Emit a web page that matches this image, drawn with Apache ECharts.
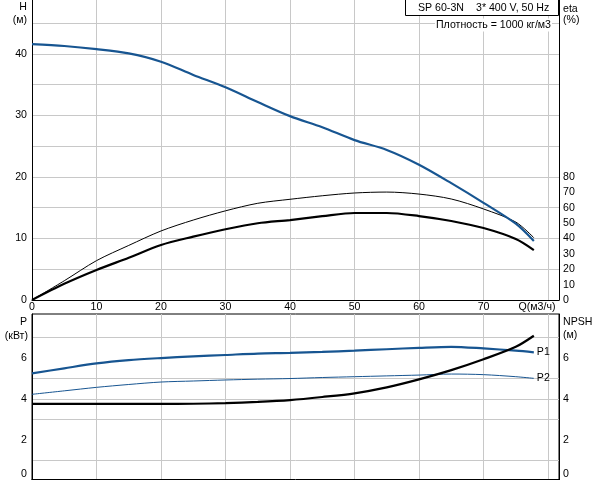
<!DOCTYPE html>
<html><head><meta charset="utf-8">
<script src="https://cdn.jsdelivr.net/npm/echarts@6/dist/echarts.min.js"></script>
<style>html,body{margin:0;padding:0;background:#fff}#c{width:592px;height:480px}</style>
</head><body><div id="c"></div>
<script>
// Flow rate Q (m3/h)
const flow = [0, 5, 10, 15, 20, 25, 30, 35, 40, 45, 50, 55, 60, 65, 70, 75, 77.8];
// Head H (m)
const head = [41.6, 41.3, 40.8, 40.1, 38.75, 36.6, 34.6, 32.2, 29.9, 28.1, 26.0, 24.4, 22.0, 19.0, 15.8, 12.4, 9.6];
// Efficiency (%) - pump (thin) and total (thick)
const etaPump = [0, 12.5, 25.6, 35.5, 44.9, 52.0, 58.0, 62.9, 65.5, 67.8, 69.6, 70.2, 68.9, 65.7, 59.2, 50.7, 40.5];
const etaTotal = [0, 10.5, 19.5, 27.5, 35.8, 41.2, 46.0, 49.9, 52.0, 54.5, 56.6, 56.6, 54.6, 51.4, 46.8, 39.7, 32.5];
// Power (kW)
const powerP1 = [5.25, 5.5, 5.74, 5.9, 6.0, 6.08, 6.15, 6.22, 6.25, 6.3, 6.36, 6.43, 6.5, 6.55, 6.47, 6.36, 6.28];
const powerP2 = [4.23, 4.4, 4.57, 4.71, 4.83, 4.88, 4.93, 4.97, 5.0, 5.05, 5.09, 5.13, 5.17, 5.22, 5.19, 5.09, 5.01];
// NPSH (m)
const npsh = [3.76, 3.76, 3.76, 3.76, 3.76, 3.77, 3.8, 3.86, 3.95, 4.1, 4.28, 4.57, 4.96, 5.41, 5.94, 6.55, 7.09];
// Labels
const qAxisName = 'Q(м3/ч)';
const titleText = 'SP 60-3N';
const supplyText = '3* 400 V, 50 Hz';
const densityText = 'Плотность = 1000 кг/м3';

const BLUE = '#175591';
const GRID = '#c8c8c8';
const FONT = '"Liberation Sans", Arial, sans-serif';
const FS = 10.6;
const pairs = arr => flow.map((q, i) => [q, arr[i]]);

const chart = echarts.init(document.getElementById('c'), null, {renderer: 'canvas'});
const lbl = {color: '#000', fontSize: FS, fontFamily: FONT};
const blackLine = {show: true, onZero: false, lineStyle: {color: '#000', width: 1}};
const T = (text, x, y, align, extra) => ({type: 'text', z: 101,
  style: Object.assign({text: text, x: x, y: y, align: align, verticalAlign: 'middle', fill: '#000', font: FS + 'px ' + FONT}, extra || {})});

const option = {
  animation: false,
  backgroundColor: '#fff',
  grid: [
    {left: 32, top: 0, width: 527, height: 300, outerBoundsMode: 'none', containLabel: false},
    {left: 32, top: 314, width: 527, height: 167, outerBoundsMode: 'none', containLabel: false,
     show: true, borderColor: '#000', borderWidth: 1, backgroundColor: 'transparent'}
  ],
  xAxis: [
    {gridIndex: 0, type: 'value', min: 0, max: 81.7, interval: 10,
     axisLine: blackLine, axisTick: {show: false},
     splitLine: {show: true, showMaxLine: false, lineStyle: {color: GRID, width: 1}},
     axisLabel: Object.assign({}, lbl, {margin: 2, showMaxLabel: false, hideOverlap: false,
       formatter: v => v === 80 ? '{q|' + qAxisName + '}' : String(v),
       rich: {q: {color: '#000', fontSize: FS, fontFamily: FONT, padding: [0, 22, 0, 0]}}})},
    {gridIndex: 1, type: 'value', min: 0, max: 81.7, interval: 10, offset: -2,
     axisLine: blackLine, axisTick: {show: false}, axisLabel: {show: false},
     splitLine: {show: true, showMaxLine: false, lineStyle: {color: GRID, width: 1}}}
  ],
  yAxis: [
    {gridIndex: 0, type: 'value', min: 0, max: 48.78, interval: 5,
     axisLine: blackLine, axisTick: {show: false},
     splitLine: {show: true, showMaxLine: false, lineStyle: {color: GRID, width: 1}},
     axisLabel: Object.assign({}, lbl, {margin: 5, formatter: v => v % 10 === 0 ? String(v) : ''})},
    {gridIndex: 0, type: 'value', position: 'right', min: 0, max: 195.12, interval: 10,
     axisLine: blackLine, axisTick: {show: false}, splitLine: {show: false},
     axisLabel: Object.assign({}, lbl, {margin: 4, formatter: v => v <= 80 ? String(v) : ''})},
    {gridIndex: 1, type: 'value', min: 0, max: 8.15, interval: 1,
     axisLine: blackLine, axisTick: {show: false},
     splitLine: {show: true, showMinLine: false, showMaxLine: false,
       lineStyle: {color: [GRID, 'rgba(0,0,0,0)', GRID, GRID, GRID, 'rgba(0,0,0,0)', GRID, 'rgba(0,0,0,0)'], width: 1}},
     axisLabel: Object.assign({}, lbl, {margin: 5,
       formatter: v => v === 0 ? '{z|0}' : (v % 2 === 0 && v < 8 ? String(v) : ''),
       rich: {z: {color: '#000', fontSize: FS, fontFamily: FONT, padding: [0, 0, 14, 0]}}})},
    {gridIndex: 1, type: 'value', position: 'right', min: 0, max: 8.15, interval: 1,
     axisLine: blackLine, axisTick: {show: false}, splitLine: {show: false},
     axisLabel: Object.assign({}, lbl, {margin: 4,
       formatter: v => v === 0 ? '{z|0}' : (v % 2 === 0 && v < 8 ? String(v) : ''),
       rich: {z: {color: '#000', fontSize: FS, fontFamily: FONT, padding: [0, 0, 14, 0]}}})}
  ],
  series: [
    {type: 'line', name: 'H', xAxisIndex: 0, yAxisIndex: 0, data: pairs(head), smooth: 0.3,
     symbol: 'none', lineStyle: {color: BLUE, width: 2.2}, z: 5},
    {type: 'line', name: 'eta', xAxisIndex: 0, yAxisIndex: 1, data: pairs(etaPump), smooth: 0.3,
     symbol: 'none', lineStyle: {color: '#000', width: 1}, z: 4},
    {type: 'line', name: 'eta total', xAxisIndex: 0, yAxisIndex: 1, data: pairs(etaTotal), smooth: 0.3,
     symbol: 'none', lineStyle: {color: '#000', width: 2.2}, z: 4},
    {type: 'line', name: 'P1', xAxisIndex: 1, yAxisIndex: 2, data: pairs(powerP1), smooth: 0.3,
     symbol: 'none', lineStyle: {color: BLUE, width: 2.2}, z: 5,
     endLabel: {show: true, formatter: 'P1', distance: 3, color: '#000', fontSize: FS, fontFamily: FONT}},
    {type: 'line', name: 'P2', xAxisIndex: 1, yAxisIndex: 2, data: pairs(powerP2), smooth: 0.3,
     symbol: 'none', lineStyle: {color: BLUE, width: 1}, z: 5,
     endLabel: {show: true, formatter: 'P2', distance: 3, color: '#000', fontSize: FS, fontFamily: FONT}},
    {type: 'line', name: 'NPSH', xAxisIndex: 1, yAxisIndex: 3, data: pairs(npsh), smooth: 0.3,
     symbol: 'none', lineStyle: {color: '#000', width: 2.2}, z: 6}
  ],
  graphic: [
    T('H', 27, 7, 'right'),
    T('(м)', 27, 20, 'right'),
    T('eta', 563, 9, 'left'),
    T('(%)', 563, 20, 'left'),
    T('P', 27, 322, 'right'),
    T('(кВт)', 28, 336, 'right'),
    T('NPSH', 563, 322, 'left'),
    T('(м)', 563, 335, 'left'),
    {type: 'rect', z: 100, shape: {x: 405.5, y: -0.5, width: 153, height: 16}, style: {fill: '#fff', stroke: '#000', lineWidth: 1}},
    T(titleText, 418, 8, 'left'),
    T(supplyText, 476, 8, 'left'),
    T(densityText, 552, 25, 'right', {backgroundColor: '#fff', padding: [1, 1, 1, 1]})
  ]
};
chart.setOption(option);
</script>
</body></html>
